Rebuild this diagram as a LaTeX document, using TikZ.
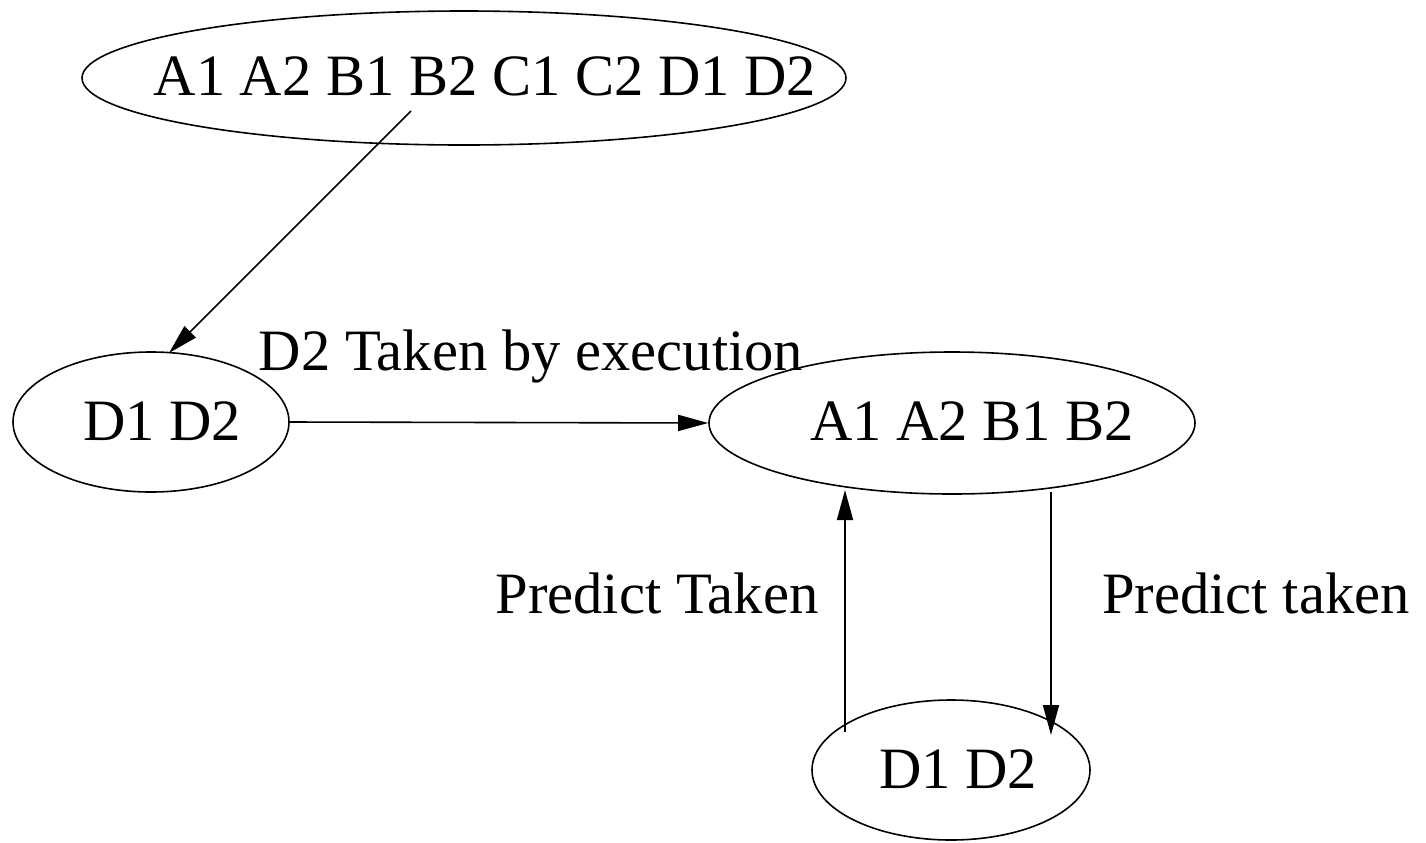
\documentclass[tikz,border=0pt]{standalone}
\usepackage{fontspec}
\setmainfont{Liberation Serif}
\usetikzlibrary{shapes.geometric,arrows.meta}
\begin{document}
\begin{tikzpicture}[x=0.5pt,y=-0.5pt,
  oval/.style={draw,ellipse,line width=0.8pt,inner sep=0pt},
  txt/.style={font=\fontsize{29.3pt}{35pt}\selectfont,inner sep=0pt,anchor=base},
  arr/.style={line width=0.8pt,-{Triangle[length=15pt,width=8pt]}}]
\useasboundingbox (0,0) rectangle (1426,842);
% ellipses
\node[oval,minimum width=382pt,minimum height=67pt] (top) at (464,78) {};
\node[oval,minimum width=138pt,minimum height=70pt] (dl) at (151,422) {};
\node[oval,minimum width=243pt,minimum height=71pt] (mr) at (952,423) {};
\node[oval,minimum width=139pt,minimum height=70pt] (bt) at (951,770) {};
% texts
\node[txt] (ttop) at (485,95) {A1 A2 B1 B2 C1 C2 D1 D2};
\node[txt] (tdl) at (162,440) {D1 D2};
\node[txt] (tmr) at (972,440) {A1 A2 B1 B2};
\node[txt] (tbt) at (958,788) {D1 D2};
\node[txt] (lab1) at (531,370) {D2 Taken by execution};
\node[txt] (lab2) at (657,613) {Predict Taken};
\node[txt] (lab3) at (1256,613) {Predict taken};
% connector ends
\coordinate (s1) at (411,111);
\coordinate (e1) at (169,353);
\coordinate (s3) at (845,732);
\coordinate (e3) at (845,490);
\coordinate (s4) at (1051,492);
\coordinate (e4) at (1051,735);
% connectors
\draw[arr] (s1) -- (e1);
\draw[arr] (dl.east) -- (mr.west);
\draw[arr] (s3) -- (e3);
\draw[arr] (s4) -- (e4);
\end{tikzpicture}
\end{document}
